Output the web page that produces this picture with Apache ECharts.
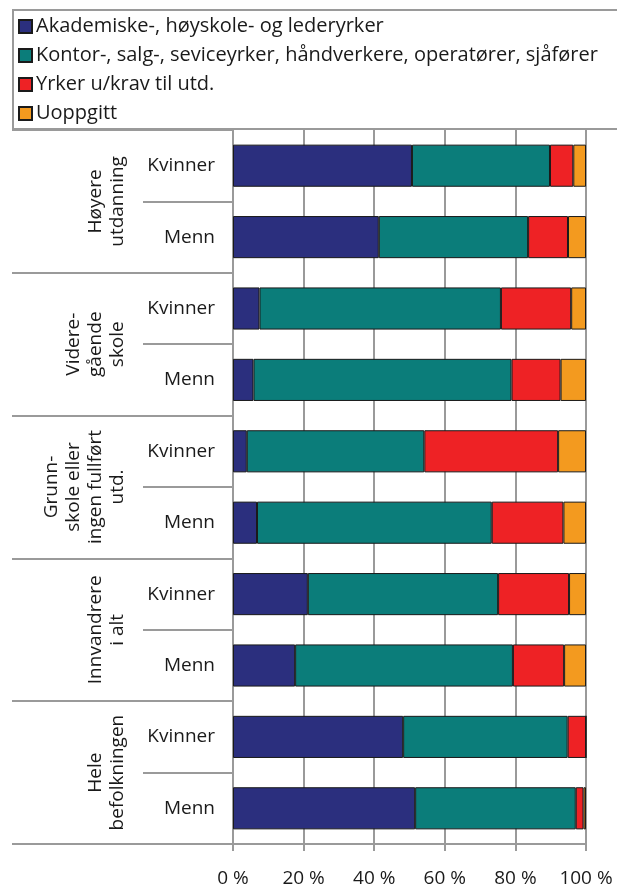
<!DOCTYPE html>
<html>
<head>
<meta charset="utf-8">
<script src="https://cdn.jsdelivr.net/npm/echarts@6/dist/echarts.min.js"></script>
<style>
html,body{margin:0;padding:0;background:#fff;}
#chart{width:617px;height:888px;}
</style>
</head>
<body>
<div id="chart"></div>
<script>
var groups = ['Høyere\nutdanning', 'Videre-\ngående\nskole', 'Grunn-\nskole eller\ningen fullført\nutd.', 'Innvandrere\ni alt', 'Hele\nbefolkningen'];
var sexes = ['Kvinner', 'Menn'];
var seriesNames = ['Akademiske-, høyskole- og lederyrker', 'Kontor-, salg-, seviceyrker, håndverkere, operatører, sjåfører', 'Yrker u/krav til utd.', 'Uoppgitt'];
var academic  = [50.7, 41.3,  7.5,  5.8,  3.9,  6.8, 21.2, 17.6, 48.2, 51.6];
var office    = [39.1, 42.3, 68.4, 73.1, 50.3, 66.5, 53.9, 61.7, 46.6, 45.5];
var unskilled = [ 6.6, 11.3, 19.9, 13.9, 37.9, 20.3, 20.1, 14.5,  5.2,  2.2];
var unknown   = [ 3.6,  5.1,  4.2,  7.2,  7.9,  6.4,  4.8,  6.2,  0.0,  0.7];
var xTicks = [0, 20, 40, 60, 80, 100];
var colors = ['#2b2f7e', '#0b7d7a', '#ee2225', '#f39a1f'];

var rows = [];
groups.forEach(function (g) { sexes.forEach(function (s) { rows.push(g + '|' + s); }); });
var values = [academic, office, unskilled, unknown];

var FONT = '"Open Sans", sans-serif';
var GRAY = '#9a9a9a';
var chart = echarts.init(document.getElementById('chart'));
chart.setOption({
  animation: false,
  color: colors,
  textStyle: { fontFamily: FONT },
  graphic: [{
    type: 'rect', left: 12, top: 9, z: -1,
    shape: { width: 640, height: 119 },
    style: { fill: '#fff', stroke: GRAY, lineWidth: 2 }
  }],
  legend: {
    orient: 'vertical', left: 12, top: 9,
    padding: [7, 6, 6, 6],
    itemGap: 8, itemWidth: 13, itemHeight: 13, icon: 'rect',
    textStyle: { fontFamily: FONT, fontSize: 20, color: '#1a1a1a', lineHeight: 21, padding: [0, 0, 0, -1] },
    data: seriesNames
  },
  grid: { left: 233, right: 31, top: 130, bottom: 43 },
  xAxis: {
    type: 'value', min: xTicks[0], max: xTicks[xTicks.length - 1], interval: 20,
    axisLine: { show: true, lineStyle: { color: GRAY, width: 2 } },
    axisTick: { show: true, length: 7, lineStyle: { color: GRAY, width: 2 } },
    splitLine: { show: true, lineStyle: { color: GRAY, width: 2 } },
    axisLabel: { formatter: '{value} %', fontSize: 19, color: '#1a1a1a', margin: 25, fontFamily: FONT }
  },
  yAxis: [{
    type: 'category', data: rows, inverse: true,
    axisLine: { show: true, lineStyle: { color: GRAY, width: 2 } },
    axisTick: { show: true, interval: 0, length: 90, lineStyle: { color: GRAY, width: 2 } },
    axisLabel: {
      interval: 0, fontSize: 19, color: '#1a1a1a', margin: 18, fontFamily: FONT,
      formatter: function (v) { return v.split('|')[1]; }
    }
  }, {
    type: 'category', data: groups, inverse: true, position: 'left',
    axisLine: { show: false },
    axisTick: { show: true, interval: 0, length: 221, lineStyle: { color: GRAY, width: 2 } },
    axisLabel: { interval: 0, rotate: 90, fontSize: 19, lineHeight: 22, color: '#1a1a1a', margin: 104, fontFamily: FONT, align: 'center', hideOverlap: false }
  }],
  series: seriesNames.map(function (n, i) {
    return {
      name: n, type: 'bar', stack: 'total', yAxisIndex: 0,
      barWidth: '59%',
      itemStyle: { color: colors[i], borderColor: '#1a1a1a', borderWidth: 1 },
      data: values[i]
    };
  })
});
</script>
</body>
</html>
